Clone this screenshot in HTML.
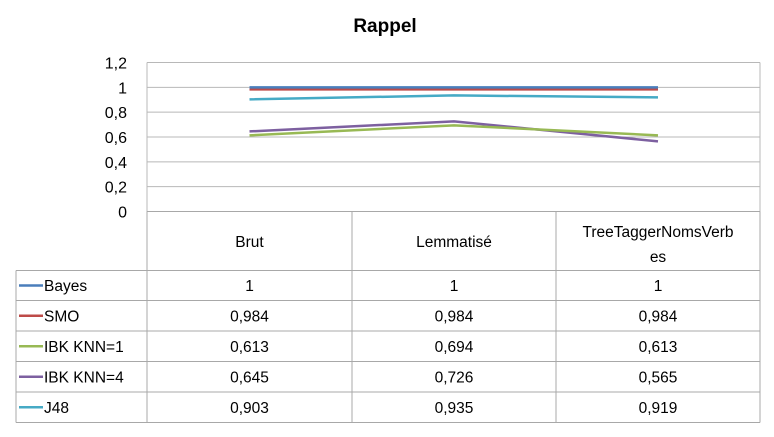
<!DOCTYPE html>
<html><head><meta charset="utf-8"><style>
body{margin:0;background:#fff;width:774px;height:437px;overflow:hidden}
svg{display:block;font-family:"Liberation Sans",sans-serif}
</style></head><body>
<svg id="c" width="774" height="437">
<text x="385" y="32" text-anchor="middle" font-size="19" font-weight="bold" fill="#000">Rappel</text>
</svg>
<script>
const categories=["Brut","Lemmatisé","TreeTaggerNomsVerbes"];
const seriesNames=["Bayes","SMO","IBK KNN=1","IBK KNN=4","J48"];
const bayes=[1,1,1];
const smo=[0.984,0.984,0.984];
const ibk1=[0.613,0.694,0.613];
const ibk4=[0.645,0.726,0.565];
const j48=[0.903,0.935,0.919];
const printed=[["1","1","1"],["0,984","0,984","0,984"],["0,613","0,694","0,613"],["0,645","0,726","0,565"],["0,903","0,935","0,919"]];
const yTicks=[0,0.2,0.4,0.6,0.8,1,1.2];
const yTickLabels=["0","0,2","0,4","0,6","0,8","1","1,2"];
const colors=["#4a7ebb","#be4b48","#98b954","#7d60a0","#46aac5"];
const svg=document.getElementById('c');const NS="http://www.w3.org/2000/svg";
const L=147,R=760,T=62.5,B=211.5;
const colX=[147,352,556,760];
const y=v=>B-(v/1.2)*(B-T);
const x=i=>(colX[i]+colX[i+1])/2;
function mk(t,a,txt){const e=document.createElementNS(NS,t);for(const k in a)e.setAttribute(k,a[k]);if(txt!==undefined)e.textContent=txt;svg.appendChild(e);return e;}
yTicks.forEach((v,i)=>{
 const g=mk('line',{x1:L,x2:R,y1:y(v),y2:y(v),stroke:'#b8b8b8','stroke-width':1});
 
 
 const t=mk('text',{x:127,y:y(v)+6,'text-anchor':'end','font-size':16,fill:'#000'},yTickLabels[i]);
 
 
});
mk('line',{x1:L,x2:L,y1:T,y2:B,stroke:'#b8b8b8'});
mk('line',{x1:R,x2:R,y1:T,y2:B,stroke:'#b8b8b8'});
// table
const rowY=[270.5,300.5,331,361.5,392,422.5];
const tl='#a8a8a8';
mk('line',{x1:L,x2:R,y1:211.5,y2:211.5,stroke:tl});
colX.forEach(cx=>mk('line',{x1:cx,x2:cx,y1:211.5,y2:422.5,stroke:tl}));
mk('line',{x1:16,x2:16,y1:270.5,y2:422.5,stroke:tl});
rowY.forEach(ry=>mk('line',{x1:16,x2:R,y1:ry,y2:ry,stroke:tl}));
categories.forEach((c,i)=>{
 if(i===2){
  const t=mk('text',{x:x(i),y:237,'text-anchor':'middle','font-size':15.5},'TreeTaggerNomsVerb');
  
  
  mk('text',{x:x(i),y:262,'text-anchor':'middle','font-size':15.5},'es');
 } else {
  const t=mk('text',{x:x(i),y:247,'text-anchor':'middle','font-size':15.5},c);
  
  
 }
});
const allSeries=[bayes,smo,ibk1,ibk4,j48];
seriesNames.forEach((n,s)=>{
 const cy=(rowY[s]+rowY[s+1])/2;
 const lk=mk('line',{x1:19,x2:43,y1:cy,y2:cy,stroke:colors[s],'stroke-width':2.5});
 
 
 const t=mk('text',{x:44,y:cy+5.5,'font-size':15.5},n);
 
 
 printed[s].forEach((p,i)=>{
  const v=mk('text',{x:x(i),y:cy+5.5,'text-anchor':'middle','font-size':15.5},p);
  
  
 });
});
[4,3,2,1,0].forEach(s=>{
 const pts=allSeries[s].map((v,i)=>x(i)+','+y(v)).join(' ');
 const pl=mk('polyline',{points:pts,fill:'none',stroke:colors[s],'stroke-width':2.5});
 
 
});
</script>
</body></html>
